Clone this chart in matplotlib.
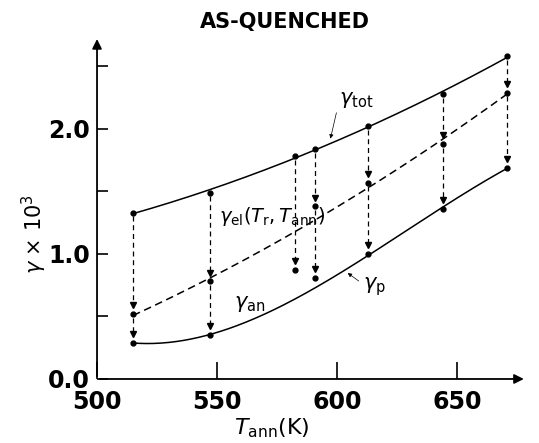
import numpy as np
import matplotlib
matplotlib.use("Agg")
import matplotlib.pyplot as plt

# annealing temperatures (K) of the measured points
t_ann = [515, 547, 582.5, 591, 613, 644, 671]

# gamma x 10^3
gamma_tot = [1.33, 1.49, 1.78, 1.84, 2.02, 2.28, 2.58]
# intermediate (elastic) level; None where no point
gamma_el = [0.52, 0.78, None, 1.38, 1.57, 1.88, 2.29]
# final level after anneal
gamma_an = [0.29, 0.35, 0.87, 0.81, 1.00, 1.36, 1.69]

# points that lie on the drawn curves
el_curve_t = [515, 547, 613, 644, 671]
el_curve_g = [0.52, 0.78, 1.57, 1.88, 2.29]
an_curve_t = [515, 547, 613, 644, 671]
an_curve_g = [0.29, 0.35, 1.00, 1.36, 1.69]

plt.rcParams["font.family"] = ["DejaVu Sans"]
plt.rcParams["mathtext.fontset"] = "dejavusans"

fig = plt.figure(figsize=(5.39, 4.43), dpi=100)
ax = fig.add_axes([0.18, 0.1445, 0.8015, 0.7765])
ax.set_xlim(500, 680)
ax.set_ylim(0, 2.75)

# smooth fitted curves through the data
tt = np.linspace(515, 671, 200)
p_tot = np.polyfit(t_ann, gamma_tot, 2)
p_el = np.polyfit(el_curve_t, el_curve_g, 2)
p_an = np.polyfit(an_curve_t, an_curve_g, 3)
ax.plot(tt, np.polyval(p_tot, tt), "k-", lw=1.1)
ax.plot(tt, np.polyval(p_el, tt), "k--", lw=1.1, dashes=(5, 3))
ax.plot(tt, np.polyval(p_an, tt), "k-", lw=1.1)

# points
for t, a, b, c in zip(t_ann, gamma_tot, gamma_el, gamma_an):
    ax.plot([t], [a], "ko", ms=3.5)
    ax.plot([t], [c], "ko", ms=3.5)
    if b is not None:
        ax.plot([t], [b], "ko", ms=3.5)

# dashed drop arrows
def drop(x, y0, y1):
    ax.plot([x, x], [y0 - 0.03, y1 + 0.06], "k--", lw=0.9, dashes=(4, 3))
    ax.plot([x], [y1 + 0.07], marker="v", color="k", ms=4.5)

for t, a, b, c in zip(t_ann, gamma_tot, gamma_el, gamma_an):
    if b is None:
        drop(t, a, c)
    else:
        drop(t, a, b)
        drop(t, b, c)

# labels
ax.text(601, 2.23, r"$\gamma_{\rm tot}$", fontsize=15, va="center")
ax.annotate("", xy=(597, 1.90), xytext=(600, 2.15),
            arrowprops=dict(arrowstyle="-|>", lw=0.5, color="k", mutation_scale=6))
ax.text(551, 1.30, r"$\gamma_{\rm el}(T_{\rm r},T_{\rm ann})$", fontsize=14, va="center")
ax.text(557, 0.60, r"$\gamma_{\rm an}$", fontsize=15, va="center")
ax.text(611, 0.74, r"$\gamma_{\rm p}$", fontsize=15, va="center")
ax.annotate("", xy=(603.5, 0.86), xytext=(610, 0.77),
            arrowprops=dict(arrowstyle="-|>", lw=0.5, color="k", mutation_scale=6))

# axes with arrow heads
for s in ax.spines.values():
    s.set_visible(False)
ax.annotate("", xy=(500, 2.74), xytext=(500, 0),
            arrowprops=dict(arrowstyle="-|>", lw=1.3, color="k", mutation_scale=14),
            annotation_clip=False)
ax.annotate("", xy=(679, 0), xytext=(500, 0),
            arrowprops=dict(arrowstyle="-|>", lw=1.3, color="k", mutation_scale=14),
            annotation_clip=False)

ax.set_xticks([500, 550, 600, 650])
ax.set_xticklabels(["500", "550", "600", "650"])
ax.set_yticks([0, 0.5, 1.0, 1.5, 2.0, 2.5])
ax.set_yticklabels(["0.0", "", "1.0", "", "2.0", ""])
ax.tick_params(axis="x", direction="in", length=12, width=1.2, pad=8, labelsize=17)
ax.tick_params(axis="y", direction="in", length=8, width=1.2, pad=5, labelsize=17)
for lab in ax.get_xticklabels() + ax.get_yticklabels():
    lab.set_fontweight("bold")

ax.set_xlabel(r"$T_{\rm ann}$(K)", fontsize=16)
ax.xaxis.set_label_coords(0.405, -0.11)
ax.set_ylabel(r"$\gamma$ × 10$^3$", fontsize=15)
ax.yaxis.set_label_coords(-0.11, 0.42)
fig.text(0.529, 1 - 22 / 443, "AS-QUENCHED", fontsize=15, fontweight="bold",
         ha="center", va="center")

fig.savefig("out.png", dpi=100)
